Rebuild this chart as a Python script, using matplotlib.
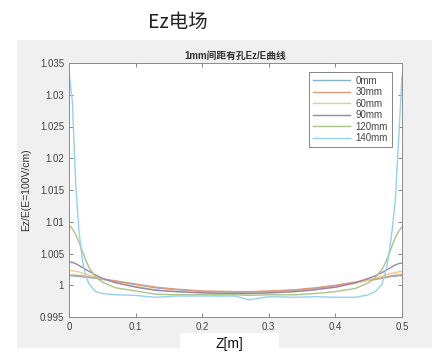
import matplotlib
matplotlib.use("Agg")
import matplotlib.pyplot as plt
from matplotlib.patches import Rectangle
from matplotlib.ticker import FixedLocator, FixedFormatter

plt.rcParams['font.family'] = ['Liberation Sans', 'Noto Sans CJK SC', 'DejaVu Sans']

# sample positions along the gap (m)
z = [0, 0.005, 0.01, 0.015, 0.02, 0.025, 0.03, 0.04, 0.05, 0.07, 0.1, 0.13,
     0.16, 0.2, 0.25, 0.27, 0.3, 0.34, 0.37, 0.4, 0.43, 0.45, 0.46, 0.47,
     0.475, 0.48, 0.485, 0.49, 0.495, 0.5]

ez_0 = [1.0015, 1.0015, 1.0014, 1.0014, 1.0013, 1.0013, 1.0012, 1.0011, 1.0009,
        1.0006, 1.0001, 0.9996, 0.9993, 0.9990, 0.9989, 0.9989, 0.9990, 0.9992,
        0.9995, 0.9999, 1.0004, 1.0008, 1.0009, 1.0011, 1.0012, 1.0013, 1.0014,
        1.0014, 1.0015, 1.0015]
ez_30 = [1.0016, 1.0016, 1.0016, 1.0015, 1.0015, 1.0014, 1.0013, 1.0012, 1.0010,
         1.0007, 1.0002, 0.9997, 0.9994, 0.9991, 0.9990, 0.9990, 0.9991, 0.9993,
         0.9996, 1.0000, 1.0005, 1.0009, 1.0010, 1.0012, 1.0013, 1.0014, 1.0015,
         1.0016, 1.0016, 1.0017]
ez_60 = [1.0023, 1.0023, 1.0022, 1.0021, 1.0019, 1.0018, 1.0016, 1.0013, 1.0010,
         1.0004, 0.9998, 0.9993, 0.9990, 0.9988, 0.9987, 0.9987, 0.9988, 0.9990,
         0.9993, 0.9997, 1.0003, 1.0008, 1.0011, 1.0014, 1.0016, 1.0018, 1.0019,
         1.0020, 1.0021, 1.0022]
ez_90 = [1.0037, 1.0036, 1.0034, 1.0031, 1.0028, 1.0025, 1.0022, 1.0016, 1.0011,
         1.0004, 0.9997, 0.9992, 0.9990, 0.9988, 0.9987, 0.9987, 0.9988, 0.9990,
         0.9993, 0.9997, 1.0004, 1.0011, 1.0015, 1.0020, 1.0023, 1.0026, 1.0029,
         1.0032, 1.0034, 1.0035]
ez_120 = [1.0095, 1.0089, 1.0080, 1.0068, 1.0054, 1.0040, 1.0028, 1.0013, 1.0005,
          0.9996, 0.9991, 0.9986, 0.9985, 0.9985, 0.9985, 0.9984, 0.9985, 0.9985,
          0.9987, 0.9990, 0.9995, 1.0004, 1.0012, 1.0025, 1.0035, 1.0048, 1.0062,
          1.0075, 1.0085, 1.0092]
ez_140 = [1.0335, 1.0290, 1.0160, 1.0085, 1.0040, 1.0015, 1.0002, 0.9990, 0.9987,
          0.9985, 0.9984, 0.9981, 0.9983, 0.9983, 0.9983, 0.9977, 0.9982, 0.9981,
          0.9982, 0.9981, 0.9981, 0.9985, 0.9990, 1.0002, 1.0020, 1.0045, 1.0085,
          1.0135, 1.0230, 1.0330]

series = [ez_0, ez_30, ez_60, ez_90, ez_120, ez_140]
labels = ['0mm', '30mm', '60mm', '90mm', '120mm', '140mm']
colors = ['#86b2cf', '#e09a7c', '#eecb7e', '#9d82ab', '#a9c585', '#93d2ee']

yticks = [0.995, 1, 1.005, 1.01, 1.015, 1.02, 1.025, 1.03, 1.035]
ytick_labels = ['0.995', '1', '1.005', '1.01', '1.015', '1.02', '1.025', '1.03', '1.035']
xticks = [0, 0.1, 0.2, 0.3, 0.4, 0.5]
xtick_labels = ['0', '0.1', '0.2', '0.3', '0.4', '0.5']

fig = plt.figure(figsize=(4.32, 3.53), dpi=100)
fig.patch.set_facecolor('white')

# grey figure panel behind the axes
fig.add_artist(Rectangle((17 / 432, 5 / 353), 415 / 432, 308 / 353,
                         transform=fig.transFigure, facecolor='#f0f0f0',
                         edgecolor='none', zorder=0))

fig.text(178 / 432, 1 - 22 / 353, 'Ez电场', ha='center', va='center',
         fontsize=14, family=['Noto Sans CJK SC', 'DejaVu Sans'], color='#222222')

ax = fig.add_axes([69 / 432, 36 / 353, 333 / 432, 254 / 353])
ax.set_facecolor('white')

for vals, lab, col in zip(series, labels, colors):
    ax.plot(z, vals, color=col, linewidth=1.0, label=lab)

ax.set_xlim(0, 0.5)
ax.set_ylim(0.995, 1.035)
ax.xaxis.set_major_locator(FixedLocator(xticks))
ax.xaxis.set_major_formatter(FixedFormatter(xtick_labels))
ax.yaxis.set_major_locator(FixedLocator(yticks))
ax.yaxis.set_major_formatter(FixedFormatter(ytick_labels))
ax.tick_params(direction='in', length=3, width=0.6, colors='#707070',
               labelcolor='#444444', labelsize=7, top=True, right=True)
for sp in ax.spines.values():
    sp.set_color('#8a8a8a')
    sp.set_linewidth(0.7)

ax.set_title('1mm间距有孔Ez/E曲线', fontsize=7, color='#333333',
             fontweight='bold', pad=3)
ax.set_ylabel('Ez/E(E=100V/cm)', fontsize=7.5, color='#333333', labelpad=6)

leg = ax.legend(loc='upper right', bbox_to_anchor=(0.97, 0.965), fontsize=7,
                frameon=True, fancybox=False, handlelength=3.8,
                borderpad=0.4, labelspacing=0.15, handletextpad=0.6,
                borderaxespad=0)
leg.get_frame().set_edgecolor('#666666')
leg.get_frame().set_linewidth(0.7)
for t in leg.get_texts():
    t.set_color('#444444')

# white strip holding the x-axis label
fig.add_artist(Rectangle((180 / 432, 0), 99 / 432, 20 / 353,
                         transform=fig.transFigure, facecolor='white',
                         edgecolor='none', zorder=1))
fig.text(229 / 432, 1 - 344 / 353, 'Z[m]', ha='center', va='center',
         fontsize=10, color='#111111', zorder=2)

fig.savefig('out.png', dpi=100)
